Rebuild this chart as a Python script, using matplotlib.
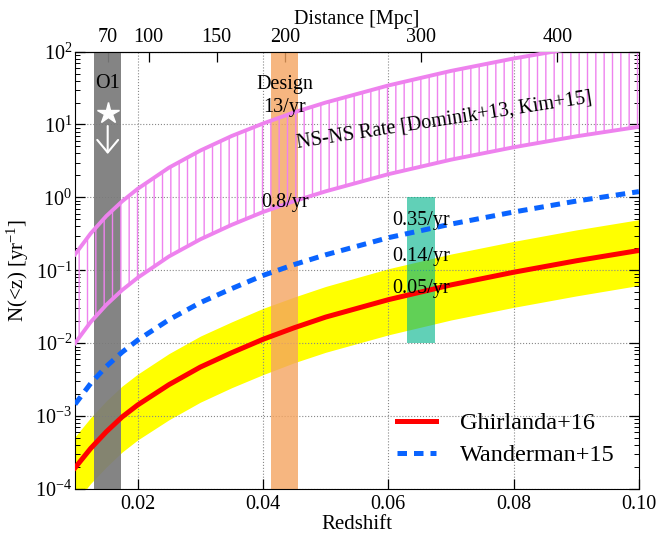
import numpy as np
import matplotlib
matplotlib.use("Agg")
import matplotlib.pyplot as plt
from matplotlib.lines import Line2D
from matplotlib.ticker import NullFormatter, LogLocator

plt.rcParams["font.family"] = ["Liberation Serif", "DejaVu Serif"]
plt.rcParams["mathtext.fontset"] = "custom"
plt.rcParams["mathtext.rm"] = "Liberation Serif"
plt.rcParams["mathtext.it"] = "Liberation Serif:italic"
plt.rcParams["axes.unicode_minus"] = False
plt.rcParams["hatch.linewidth"] = 1.0

# --- data ---
HUBBLE_DIST = 4600.0  # Mpc per unit redshift used for the top axis

redshift = [0.01, 0.0125, 0.015, 0.0175, 0.02, 0.025, 0.03, 0.035, 0.04,
            0.045, 0.05, 0.06, 0.07, 0.08, 0.09, 0.10]
nsns_low = [0.0100, 0.0195, 0.0336, 0.0533, 0.079, 0.155, 0.266, 0.42, 0.63,
            0.89, 1.21, 2.08, 3.29, 4.87, 6.88, 9.3]
nsns_high = [0.165, 0.32, 0.555, 0.88, 1.31, 2.56, 4.39, 6.95, 10.3,
             14.7, 20.0, 34.3, 54.3, 80.4, 113.0, 155.0]
ghirlanda = [1.95e-4, 3.6e-4, 6.1e-4, 9.7e-4, 1.42e-3, 2.7e-3, 4.7e-3, 7.4e-3,
             0.0113, 0.0163, 0.0228, 0.0395, 0.063, 0.094, 0.135, 0.187]
ghirlanda_low = [6.4e-5, 1.19e-4, 2.0e-4, 3.2e-4, 4.7e-4, 8.9e-4, 1.55e-3, 2.45e-3,
                 3.7e-3, 5.4e-3, 7.5e-3, 0.0130, 0.0208, 0.031, 0.0445, 0.062]
ghirlanda_high = [5.2e-4, 9.5e-4, 1.62e-3, 2.57e-3, 3.76e-3, 7.2e-3, 0.0125, 0.0196,
                  0.030, 0.043, 0.060, 0.105, 0.167, 0.249, 0.358, 0.495]
wanderman = [1.45e-3, 2.8e-3, 4.8e-3, 7.5e-3, 0.011, 0.021, 0.036, 0.056, 0.085,
             0.12, 0.163, 0.28, 0.43, 0.63, 0.89, 1.2]

o1_range = [60, 80]          # Mpc
design_range = [190, 210]    # Mpc
aligo_range = [290, 310]     # Mpc
aligo_rates = [0.01, 1.0]    # yr^-1
dist_ticks = [70, 100, 150, 200, 300, 400]
redshift_ticks = [0.02, 0.04, 0.06, 0.08, 0.10]
rate_ticks = [1e-4, 1e-3, 1e-2, 1e-1, 1e0, 1e1, 1e2]

rate_labels = ["0.35/yr", "0.14/yr", "0.05/yr"]
rate_label_y = [0.48, 0.154, 0.0555]

z = np.array(redshift)

fig = plt.figure(figsize=(6.59, 5.34), dpi=100)
ax = fig.add_axes([0.1138, 0.0843, 0.8558, 0.8191])

# yellow uncertainty band
ax.fill_between(z, ghirlanda_low, ghirlanda_high, color="#ffff00", lw=0, zorder=1)

# detector range bands
ax.axvspan(o1_range[0] / HUBBLE_DIST, o1_range[1] / HUBBLE_DIST,
           color="#7a7a7a", alpha=0.92, lw=0, zorder=2)
ax.axvspan(design_range[0] / HUBBLE_DIST, design_range[1] / HUBBLE_DIST,
           color="sandybrown", alpha=0.8, lw=0, zorder=2)
ax.fill_between(np.array(aligo_range) / HUBBLE_DIST, aligo_rates[0], aligo_rates[1],
                color="#00b48c", alpha=0.62, lw=0, zorder=2)

# NS-NS rate hatched region
ax.fill_between(z, nsns_low, nsns_high, facecolor="none", edgecolor="violet",
                hatch="||", lw=0, zorder=2.5)
ax.plot(z, nsns_low, color="violet", lw=2.8, zorder=3)
ax.plot(z, nsns_high, color="violet", lw=2.8, zorder=3)

ax.plot(z, ghirlanda, color="#ff0000", lw=3.6, zorder=3.5)
ax.plot(z, wanderman, color="#0a64ff", lw=3.6, dashes=(1.9, 1.4), zorder=3.5)

# annotations
z_o1 = np.mean(o1_range) / HUBBLE_DIST
z_design = np.mean(design_range) / HUBBLE_DIST
z_aligo = np.mean(aligo_range) / HUBBLE_DIST
ax.text(z_o1, 36.7, "O1", ha="center", va="center", fontsize=14.5, zorder=5)
ax.plot([z_o1], [14.3], marker="*", color="white", ms=16, mec="white", zorder=5)
ax.annotate("", xy=(z_o1, 3.6), xytext=(z_o1, 10.4),
            arrowprops=dict(arrowstyle="->,head_length=0.3,head_width=0.25",
                            color="white", lw=1.5, mutation_scale=30), zorder=5)
ax.text(z_design, 35.7, "Design", ha="center", va="center", fontsize=14.5, zorder=5)
ax.text(z_design, 17.1, "13/yr", ha="center", va="center", fontsize=14.5, zorder=5)
ax.text(z_design, 0.84, "0.8/yr", ha="center", va="center", fontsize=14.5, zorder=5)
for lab, yv in zip(rate_labels, rate_label_y):
    ax.text(z_aligo, yv, lab, ha="center", va="center", fontsize=14.5, zorder=5)
ax.text(0.0689, 11.5, "NS-NS Rate [Dominik+13, Kim+15]", ha="center", va="center",
        rotation=8.8, fontsize=14.5, zorder=5)

ax.set_yscale("log")
ax.set_xlim(0.01, 0.10)
ax.set_ylim(1e-4, 1e2)
ax.set_yticks(rate_ticks)
ax.yaxis.set_minor_locator(LogLocator(base=10, subs=np.arange(2, 10), numticks=20))
ax.yaxis.set_minor_formatter(NullFormatter())
ax.set_xticks(redshift_ticks)
ax.set_xticklabels([f"{t:.2f}" for t in redshift_ticks])
ax.tick_params(which="both", direction="in", right=True, top=False, labelsize=14.5)
ax.tick_params(which="major", length=7, width=0.9)
ax.tick_params(which="minor", length=3.5, width=0.7)
ax.tick_params(axis="x", pad=4)
ax.tick_params(axis="y", pad=2)
ax.grid(True, which="major", ls=":", color="#888888", lw=0.8)
ax.set_xlabel("Redshift", fontsize=15, labelpad=1)
ax.set_ylabel("N(<z) [yr$^{-1}$]", fontsize=15, labelpad=3)

sec = ax.secondary_xaxis("top", functions=(lambda x: x * HUBBLE_DIST,
                                           lambda d: d / HUBBLE_DIST))
sec.set_xticks(dist_ticks)
sec.tick_params(direction="in", length=7, width=0.9, labelsize=14.5, pad=3)
sec.set_xlabel("Distance [Mpc]", fontsize=14.5, labelpad=3)

handles = [Line2D([], [], color="#ff0000", lw=3.6),
           Line2D([], [], color="#0a64ff", lw=3.6, dashes=(1.9, 1.4))]
ax.legend(handles, ["Ghirlanda+16", "Wanderman+15"], loc="lower right",
          bbox_to_anchor=(0.975, 0.03), frameon=False, fontsize=17.5,
          handlelength=1.6, handletextpad=1.0, labelspacing=0.4, borderaxespad=0)

fig.savefig("out.png", dpi=100)
